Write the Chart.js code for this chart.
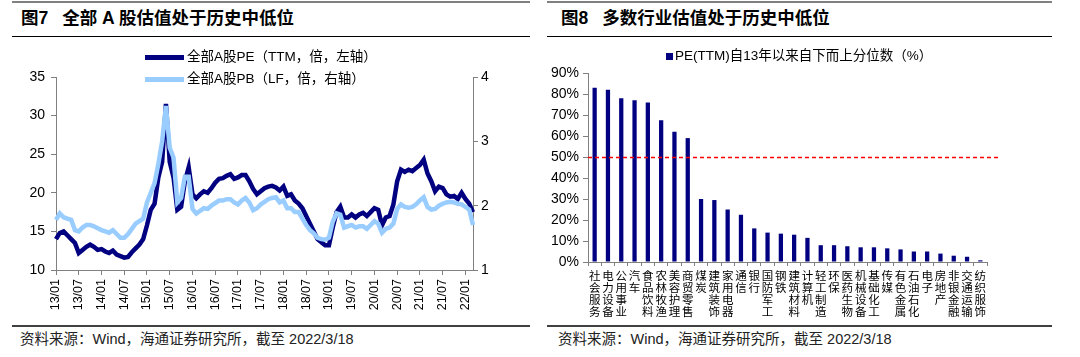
<!DOCTYPE html>
<html><head><meta charset="utf-8">
<script src="https://cdn.jsdelivr.net/npm/chart.js@4.4.1/dist/chart.umd.min.js"></script>
<style>
html,body{margin:0;padding:0;}
body{width:1080px;height:357px;background:#fff;position:relative;overflow:hidden;font-family:"Liberation Sans","Noto Sans CJK SC",sans-serif;color:#000;}
.abs{position:absolute;}
.topline{height:2px;background:#808080;top:1px;}
.uline{height:1px;background:#000;top:36px;}
.bline{height:2px;background:#404040;top:325px;}
.title{top:6px;font-weight:bold;font-size:17.5px;line-height:24px;white-space:nowrap;font-family:"Liberation Sans","Noto Sans CJK SC",sans-serif;}
.src{top:329px;font-size:14.5px;line-height:20px;color:#222;white-space:nowrap;}
.leg{font-size:13.5px;line-height:16px;white-space:nowrap;display:flex;align-items:center;}
.sw{display:inline-block;}
canvas{position:absolute;}
</style></head><body>

<div class="abs topline" style="left:12px;width:518px"></div>
<div class="abs topline" style="left:547px;width:505px"></div>
<div class="abs title" style="left:21px">图7<span style="display:inline-block;width:14px"></span>全部 A 股估值处于历史中低位</div>
<div class="abs title" style="left:561px">图8<span style="display:inline-block;width:14px"></span>多数行业估值处于历史中低位</div>
<div class="abs uline" style="left:12px;width:518px"></div>
<div class="abs uline" style="left:547px;width:505px"></div>
<div class="abs bline" style="left:12px;width:518px"></div>
<div class="abs bline" style="left:547px;width:505px"></div>
<div class="abs src" style="left:20px">资料来源：Wind，海通证券研究所，截至 2022/3/18</div>
<div class="abs src" style="left:558px">资料来源：Wind，海通证券研究所，截至 2022/3/18</div>

<canvas id="cl" width="540" height="290" style="left:0;top:40px;width:540px;height:290px"></canvas>
<canvas id="cr" width="540" height="290" style="left:540px;top:40px;width:540px;height:290px"></canvas>

<div class="abs leg" style="left:145px;top:49px"><span class="sw" style="width:39px;height:5px;background:#000080;margin-right:3px"></span>全部A股PE（TTM，倍，左轴）</div>
<div class="abs leg" style="left:145px;top:71px"><span class="sw" style="width:39px;height:5px;background:#99ccff;margin-right:3px"></span>全部A股PB（LF，倍，右轴）</div>
<div class="abs leg" style="left:666px;top:48px;font-size:13.5px"><span class="sw" style="width:7px;height:7px;background:#000080;margin-right:2px"></span>PE(TTM)自13年以来自下而上分位数（%）</div>

<script>
// ---------- Left chart data (monthly, 2013/01 - 2022/03) ----------
const startYear = 13, endYear = 22, endMonth = 3;
const months = [];
for (let y = startYear; y <= endYear; y++) {
  for (let m = 1; m <= 12; m++) {
    if (y === endYear && m > endMonth) break;
    months.push(y + '/' + String(m).padStart(2, '0'));
  }
}
const peValues = [
  14.0,14.8,15.0,14.5,14.0,13.5,12.2,12.6,13.0,13.3,13.0,12.6,
  12.7,12.4,12.2,12.5,12.0,11.8,11.6,11.7,12.3,12.8,13.3,14.0,
  15.8,17.8,18.6,22.0,24.0,31.5,24.0,22.0,17.8,18.2,21.5,23.3,
  19.8,19.3,19.8,20.2,20.0,20.6,21.3,21.8,21.9,22.2,22.4,21.8,
  22.0,22.3,22.3,21.5,20.5,19.8,20.2,20.6,20.8,20.9,20.7,20.3,
  20.8,19.6,19.8,19.0,18.6,18.0,17.0,16.0,15.0,14.0,13.6,13.2,
  13.2,15.5,17.5,18.2,16.8,16.8,17.2,16.8,17.2,17.4,17.0,17.5,
  18.0,17.8,15.8,16.8,17.0,18.5,21.5,23.0,22.7,23.0,22.8,23.2,
  23.6,24.3,22.5,21.5,20.2,20.8,20.6,19.8,19.5,19.6,19.2,20.0,
  19.2,18.6,17.5
];
const pbValues = [
  1.78,1.88,1.82,1.80,1.78,1.62,1.60,1.66,1.70,1.70,1.68,1.65,
  1.62,1.60,1.58,1.62,1.56,1.50,1.50,1.56,1.64,1.72,1.76,1.80,
  2.05,2.20,2.35,2.65,3.00,3.55,2.90,2.75,2.05,2.12,2.45,2.45,
  1.95,1.88,1.92,1.96,1.95,2.00,2.04,2.08,2.08,2.10,2.10,2.05,
  2.02,2.08,2.12,2.05,1.93,1.96,2.02,2.06,2.10,2.12,2.13,2.05,
  2.08,1.96,1.96,1.90,1.90,1.80,1.70,1.62,1.57,1.50,1.48,1.47,
  1.50,1.75,1.88,1.86,1.66,1.68,1.70,1.66,1.68,1.68,1.64,1.70,
  1.76,1.72,1.58,1.64,1.66,1.72,1.95,2.02,1.98,1.97,1.98,2.02,
  2.08,2.13,1.98,1.94,1.95,2.00,2.03,2.05,2.06,2.05,2.03,2.02,
  1.98,1.94,1.70
];
const peLabel = '全部A股PE（TTM，倍，左轴）';
const pbLabel = '全部A股PB（LF，倍，右轴）';
const leftAxisRange = [10, 35, 5];
const rightAxisRange = [1, 4, 1];

// ---------- Right chart data ----------
const industries = ['社会服务','电力设备','公用事业','汽车','食品饮料','农林牧渔','美容护理','商贸零售','煤炭','建筑装饰',
  '家用电器','通信','银行','国防军工','钢铁','建筑材料','计算机','轻工制造','环保','医药生物',
  '机械设备','基础化工','传媒','有色金属','石油石化','电子','房地产','非银金融','交通运输','纺织服饰'];
const percentiles = [83,82,78,77,76,67.5,62,59,30,29.5,25,22.5,16,14,13.5,13,11.5,8,8,7.5,7,7,6.5,6,5,5,4,3,2.5,0.8];
const barLabel = 'PE(TTM)自13年以来自下而上分位数（%）';
const threshold = 50;
const pctTicks = [0, 90, 10];

const AXIS = '#808080';
const TXT = '#000';
const SANS = '"Liberation Sans", "Noto Sans CJK SC", sans-serif';

Chart.defaults.font.family = SANS;

new Chart(document.getElementById('cl'), {
  type: 'line',
  data: {
    labels: months,
    datasets: [
      { label: pbLabel, data: pbValues, yAxisID: 'yR', borderColor: '#99ccff', borderWidth: 4.5, pointRadius: 0, tension: 0, fill: false },
      { label: peLabel, data: peValues, yAxisID: 'yL', borderColor: '#000080', borderWidth: 4.5, pointRadius: 0, tension: 0, fill: false }
    ]
  },
  options: {
    responsive: false, animation: false, devicePixelRatio: 1,
    layout: { padding: { top: 37, left: 0, right: 0, bottom: 0 } },
    plugins: { legend: { display: false }, tooltip: { enabled: false } },
    scales: {
      x: {
        grid: {
          drawOnChartArea: false, drawTicks: true, tickLength: 5,
          color: (c) => { const l = months[c.index] || ''; return (l.endsWith('/01') || l.endsWith('/07')) ? AXIS : 'rgba(0,0,0,0)'; }
        },
        border: { display: true, color: AXIS },
        ticks: {
          autoSkip: false, maxRotation: 90, minRotation: 90, padding: 4, color: TXT,
          font: { size: 12.5 },
          callback: function (v) { const l = this.getLabelForValue(v); return (l.endsWith('/01') || l.endsWith('/07')) ? l : ''; }
        },
        afterFit: (s) => { s.height = 60; }
      },
      yL: {
        position: 'left', min: leftAxisRange[0], max: leftAxisRange[1],
        grid: { drawOnChartArea: false, tickLength: 5, color: AXIS },
        border: { display: true, color: AXIS },
        ticks: { stepSize: leftAxisRange[2], color: TXT, font: { size: 14 }, padding: 6 },
        afterFit: (s) => { s.width = 56; }
      },
      yR: {
        position: 'right', min: rightAxisRange[0], max: rightAxisRange[1],
        grid: { drawOnChartArea: false, tickLength: 5, color: AXIS },
        border: { display: true, color: AXIS },
        ticks: { stepSize: rightAxisRange[2], color: TXT, font: { size: 14 }, padding: 3 },
        afterFit: (s) => { s.width = 67; }
      }
    }
  }
});

const thresholdLine = {
  id: 'thresholdLine',
  afterDatasetsDraw(chart) {
    const { ctx, chartArea, scales } = chart;
    const y = Math.round(scales.y.getPixelForValue(threshold)) + 0.5;
    ctx.save();
    ctx.strokeStyle = 'rgb(255,0,0)';
    ctx.lineWidth = 1.3;
    ctx.setLineDash([4, 3]);
    ctx.beginPath();
    ctx.moveTo(chartArea.left, y);
    ctx.lineTo(chartArea.right + 13, y);
    ctx.stroke();
    ctx.restore();
  }
};

new Chart(document.getElementById('cr'), {
  type: 'bar',
  data: {
    labels: industries,
    datasets: [{ label: barLabel, data: percentiles, backgroundColor: '#000080', barPercentage: 0.32, categoryPercentage: 1 }]
  },
  options: {
    responsive: false, animation: false, devicePixelRatio: 1,
    layout: { padding: { top: 33, left: 0, right: 93, bottom: 0 } },
    plugins: { legend: { display: false }, tooltip: { enabled: false } },
    scales: {
      x: {
        grid: { drawOnChartArea: false, tickLength: 4, color: AXIS, offset: true },
        border: { display: true, color: AXIS },
        ticks: {
          autoSkip: false, maxRotation: 0, minRotation: 0, padding: 3, color: TXT,
          font: { size: 11.5, family: '"Noto Sans CJK SC", sans-serif', lineHeight: 1.07 },
          callback: function (v) { return this.getLabelForValue(v).split(''); }
        },
        afterFit: (s) => { s.height = 68; }
      },
      y: {
        min: pctTicks[0], max: pctTicks[1],
        grid: { drawOnChartArea: false, tickLength: 5, color: AXIS },
        border: { display: true, color: AXIS },
        ticks: { stepSize: pctTicks[2], color: TXT, font: { size: 14 }, padding: 4, callback: (v) => v + '%' },
        afterFit: (s) => { s.width = 48; }
      }
    }
  },
  plugins: [thresholdLine]
});
</script>
</body></html>
